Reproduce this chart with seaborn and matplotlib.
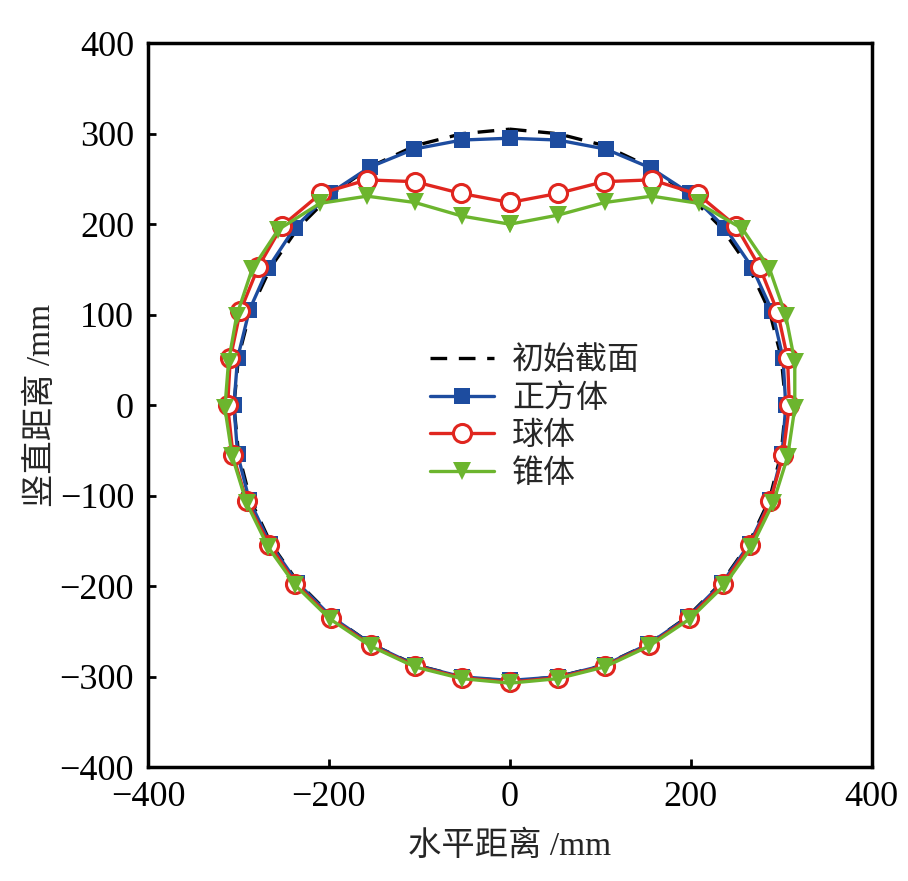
import matplotlib
matplotlib.use("Agg")
import matplotlib.pyplot as plt
import seaborn as sns
import pandas as pd

# ---- data, ordered clockwise from the top, closed ----
init_x = [0, 53, 104, 153, 196, 234, 264, 287, 300, 305, 300, 287, 264, 234, 196, 153, 104, 53,
          0, -53, -104, -153, -196, -234, -264, -287, -300, -305, -300, -287, -264, -234, -196, -153, -104, -53, 0]
init_y = [305, 300, 287, 264, 234, 196, 153, 104, 53, 0, -53, -104, -153, -196, -234, -264, -287, -300,
          -305, -300, -287, -264, -234, -196, -153, -104, -53, 0, 53, 104, 153, 196, 234, 264, 287, 300, 305]

cube_x = [0, 53, 106, 156, 199, 238, 268, 290, 302, 305, 301, 288, 265, 235, 197, 153, 105, 53,
          0, -53, -105, -153, -197, -235, -265, -288, -301, -305, -301, -288, -267, -238, -199, -155, -106, -53, 0]
cube_y = [295, 293, 283, 262, 234, 196, 152, 104, 52, 0, -54, -105, -153, -196, -234, -264, -287, -300,
          -304, -300, -287, -264, -234, -196, -153, -105, -54, 0, 52, 105, 152, 196, 234, 263, 283, 293, 295]

sphere_x = [0, 53, 104, 157, 208, 250, 276, 296, 307, 309, 302, 288, 266, 236, 198, 154, 105, 53,
            0, -53, -105, -154, -198, -237, -266, -291, -306, -312, -309, -298, -278, -252, -209, -158, -105, -54, 0]
sphere_y = [224, 234, 247, 249, 233, 198, 153, 103, 52, 0, -55, -106, -154, -197, -235, -265, -288, -301,
            -306, -301, -288, -265, -235, -197, -154, -106, -55, 0, 52, 104, 153, 198, 234, 249, 247, 234, 224]

cone_x = [0, 53, 105, 157, 209, 257, 287, 305, 315, 315, 307, 291, 267, 237, 199, 154, 105, 53,
          0, -53, -105, -154, -199, -237, -267, -291, -307, -315, -311, -302, -285, -256, -210, -158, -105, -53, 0]
cone_y = [200, 210, 224, 231, 223, 195, 151, 99, 48, -3, -57, -108, -157, -199, -236, -266, -289, -302,
          -307, -302, -289, -266, -236, -199, -157, -108, -56, -3, 48, 99, 150, 194, 223, 231, 224, 209, 200]

labels = ["初始截面", "正方体", "球体", "锥体"]
ticks = [-400, -200, 0, 200, 400]
yticks = [-400, -300, -200, -100, 0, 100, 200, 300, 400]

sns.set_theme(style="white")
plt.rcParams['font.family'] = ['Liberation Serif', 'Noto Sans CJK SC']
plt.rcParams['axes.unicode_minus'] = True

fig = plt.figure(figsize=(9.08, 8.81), dpi=100)
ax = fig.add_axes([0.163, 0.129, 0.797, 0.822])

blue = "#1d4c9f"
red = "#e0261f"
green = "#6cb52e"
lw = 2.4

sns.lineplot(x=init_x, y=init_y, sort=False, estimator=None, ax=ax, color="black",
             linestyle=(0, (5, 3.5)), linewidth=lw, label=labels[0])
sns.lineplot(x=cube_x, y=cube_y, sort=False, estimator=None, ax=ax, color=blue,
             linewidth=lw, marker="s", markersize=11, markeredgewidth=0,
             markerfacecolor=blue, label=labels[1])
sns.lineplot(x=sphere_x, y=sphere_y, sort=False, estimator=None, ax=ax, color=red,
             linewidth=lw, marker="o", markersize=13, markeredgewidth=2.2,
             markerfacecolor="white", markeredgecolor=red, label=labels[2])
sns.lineplot(x=cone_x, y=cone_y, sort=False, estimator=None, ax=ax, color=green,
             linewidth=lw, marker="v", markersize=13, markeredgewidth=0,
             markerfacecolor=green, label=labels[3])

ax.set_xlim(-400, 400)
ax.set_ylim(-400, 400)
ax.set_xticks(ticks)
ax.set_yticks(yticks)
ax.tick_params(direction="in", length=6, width=2, labelsize=26, pad=10,
               top=False, right=False, left=True, bottom=True, colors="black")
for sp in ax.spines.values():
    sp.set_linewidth(2.5)
    sp.set_color("black")
ax.set_xlabel("水平距离 /mm", fontsize=24, labelpad=12)
ax.set_ylabel("竖直距离 /mm", fontsize=24, labelpad=2)

leg = ax.legend(loc="center", bbox_to_anchor=(0.535, 0.483), frameon=False, fontsize=23,
                handlelength=2.0, handletextpad=0.55, labelspacing=0.25, borderpad=0)

fig.savefig("out.png", dpi=100)
